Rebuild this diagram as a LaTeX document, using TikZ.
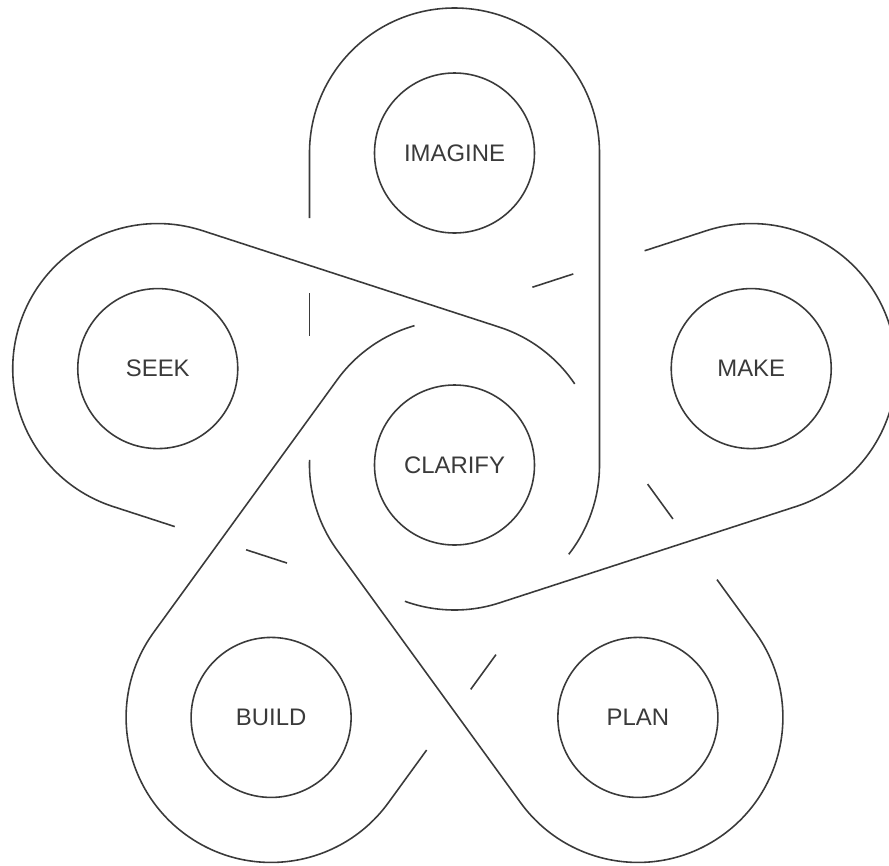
\documentclass[tikz,border=0pt]{standalone}
\usepackage{fontspec}
\setmainfont{Liberation Sans}
\usetikzlibrary{positioning}
\definecolor{inkgray}{HTML}{3A3A3A}

\begin{document}
\begin{tikzpicture}[
    loopline/.style={draw=inkgray, line width=0.45pt},
    stage/.style={circle, draw=inkgray, line width=0.45pt, minimum size=1.6cm,
      inner sep=0pt, text=inkgray, font=\fontsize{6.8}{8}\selectfont}]
        % Khung hình (tâm CLARIFY ở gốc toạ độ)
        \useasboundingbox (-4.545,-4.00) rectangle (4.345,4.65);

        % Năm vòng đan nhau: mỗi vòng vẽ theo trục 90 độ rồi xoay
        \foreach \ang in {90,18,-54,-126,-198} {
            \begin{scope}[rotate=\ang-90]
                % cung trong, cạnh phải, cung ngoài, phần trên cạnh trái
                \draw[loopline] (-38:1.45) arc (-38:0:1.45) -- (1.45,3.12)
                    arc (0:180:1.45) -- (-1.45,2.47);
                % đoạn ngắn giữa hai chỗ chui
                \draw[loopline] (-1.45,1.72) -- (-1.45,1.29);
            \end{scope}
        }

        % Các vòng tròn có nhãn
        \node[stage] (clarify) at (0,0) {CLARIFY};
        \node[stage] (imagine) at (90:3.12) {IMAGINE};
        \node[stage] (make) at (18:3.12) {MAKE};
        \node[stage] (plan) at (-54:3.12) {PLAN};
        \node[stage] (build) at (-126:3.12) {BUILD};
        \node[stage] (seek) at (162:3.12) {SEEK};
    \end{tikzpicture}
\end{document}
